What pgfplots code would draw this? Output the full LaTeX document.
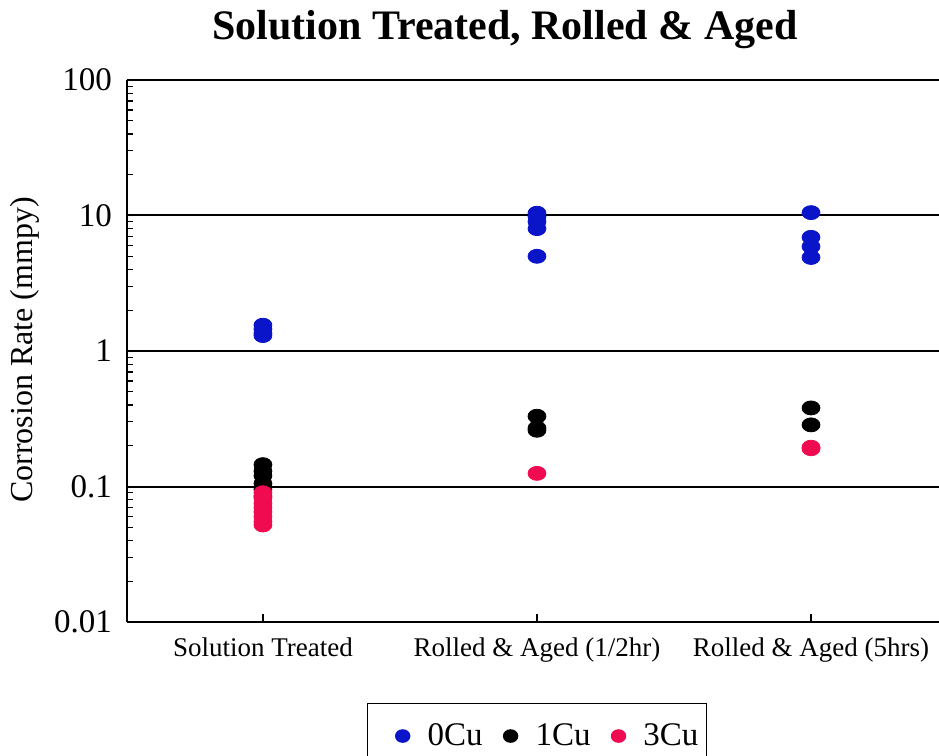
\documentclass[border=0pt]{standalone}
\usepackage{fontspec}
\setmainfont{Liberation Serif}
\usepackage{pgfplots}
\pgfplotsset{compat=1.18}
\definecolor{cuzero}{RGB}{10,20,200}
\definecolor{cuthree}{RGB}{240,10,80}

\begin{document}
\begin{tikzpicture}
\useasboundingbox (-63.5pt,-67pt) rectangle (406pt,311pt);
\begin{axis}[
  scale only axis, width=406pt, height=271pt,
  xmin=-0.496, xmax=2.467,
  ymode=log, ymin=0.01, ymax=100,
  axis x line*=bottom, axis y line*=left,
  axis line style={line width=1.1pt, black},
  xtick={0,1,2},
  xticklabels={Solution Treated, Rolled \& Aged (1/2hr), Rolled \& Aged (5hrs)},
  ytick={0.01,0.1,1,10,100},
  yticklabels={0.01,0.1,1,10,100},
  ymajorgrids, major grid style={black, line width=1pt},
  tick align=inside, major tick length=4pt, minor tick length=3pt,
  tick style={black, line width=0.6pt},
  yticklabel style={font=\fontsize{16.5}{16.5}\selectfont, xshift=-4pt},
  xticklabel style={font=\fontsize{13.5}{13.5}\selectfont, yshift=-4.5pt},
  ylabel={Corrosion Rate (mmpy)},
  ylabel style={font=\fontsize{16}{16}\selectfont, at={(axis description cs:-0.1256,0.502)}, anchor=center},
  title={Solution Treated, Rolled \& Aged},
  title style={font=\bfseries\fontsize{21}{21}\selectfont, at={(0.4655,1)}, anchor=center, yshift=19pt},
  legend columns=3,
  legend style={at={(0.505,-0.149)}, anchor=north, draw=black, line width=0.8pt,
    inner ysep=8pt, inner xsep=2pt,
    font=\fontsize{16.5}{16.5}\selectfont,
    /tikz/every odd column/.append style={column sep=7pt},
    /tikz/every even column/.append style={column sep=-3.5pt}},
  legend image code/.code={%
    \path[draw=none, fill=none] (0pt,0pt) -- (15.5pt,0pt);
    \draw[#1, mark size=3pt, mark options={xscale=1.15}] plot coordinates {(15.5pt,0pt)};},
  every axis plot/.append style={only marks, mark=*, mark size=3.5pt, mark options={xscale=1.28}},
]
\addplot[color=cuzero] table {
x y
0 1.55
0 1.45
0 1.35
0 1.30
1 10.4
1 9.8
1 9.0
1 8.0
1 5.0
2 10.5
2 6.9
2 5.9
2 4.9
};
\addlegendentry{0Cu}
\addplot[color=black] table {
x y
0 0.145
0 0.130
0 0.120
0 0.105
0 0.095
0 0.085
1 0.33
1 0.27
1 0.26
2 0.38
2 0.285
};
\addlegendentry{1Cu}
\addplot[color=cuthree] table {
x y
0 0.090
0 0.082
0 0.075
0 0.070
0 0.065
0 0.060
0 0.055
0 0.052
1 0.125
2 0.190
2 0.195
};
\addlegendentry{3Cu}
\end{axis}
\end{tikzpicture}
\end{document}
